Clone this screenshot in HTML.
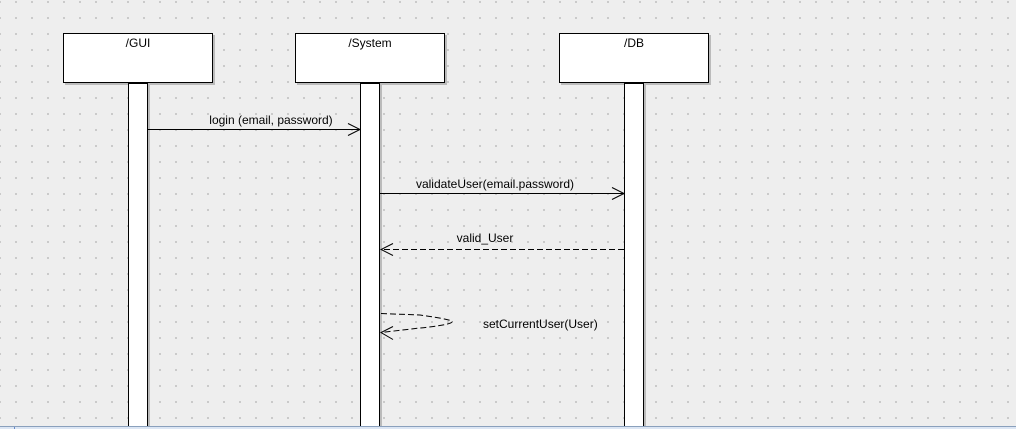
<!DOCTYPE html>
<html><head><meta charset="utf-8"><style>
html,body{margin:0;padding:0;background:#eeeeee;}
svg{display:block;}
text{font-family:"Liberation Sans",sans-serif;font-size:12px;fill:#000;}
</style></head><body>
<svg width="1016" height="429" xmlns="http://www.w3.org/2000/svg">
<defs>
<pattern id="d" x="15" y="1" width="16" height="16" patternUnits="userSpaceOnUse">
<rect x="0" y="0" width="2" height="2" fill="#cacaca"/>
</pattern>
</defs>
<rect width="1016" height="429" fill="#eeeeee"/>
<rect width="1016" height="426" fill="url(#d)"/>
<g stroke="#000" stroke-width="1" fill="#fff">
<rect x="65" y="35" width="150" height="50" fill="#bbb" stroke="none"/>
<rect x="297" y="35" width="150" height="50" fill="#bbb" stroke="none"/>
<rect x="561" y="35" width="150" height="50" fill="#bbb" stroke="none"/>
<rect x="130" y="85" width="20" height="345" fill="#bbb" stroke="none"/>
<rect x="362" y="85" width="20" height="345" fill="#bbb" stroke="none"/>
<rect x="626" y="85" width="20" height="345" fill="#bbb" stroke="none"/>
<rect x="63.5" y="33.5" width="149" height="49"/>
<rect x="295.5" y="33.5" width="149" height="49"/>
<rect x="559.5" y="33.5" width="149" height="49"/>
<rect x="128.5" y="83.5" width="19" height="350"/>
<rect x="360.5" y="83.5" width="19" height="350"/>
<rect x="624.5" y="83.5" width="19" height="350"/>
</g>
<text x="138" y="47" text-anchor="middle">/GUI</text>
<text x="370" y="47" text-anchor="middle">/System</text>
<text x="634" y="47" text-anchor="middle">/DB</text>
<g stroke="#000" stroke-width="1" fill="none">
<line x1="148" y1="129.5" x2="360" y2="129.5"/>
<polyline points="348,123.5 360,129.5 348,135.5"/>
<line x1="380" y1="193.5" x2="624" y2="193.5"/>
<polyline points="612,187.5 624,193.5 612,199.5"/>
<line x1="624" y1="249.5" x2="381" y2="249.5" stroke-dasharray="6,3"/>
<polyline points="393,243.5 381,249.5 393,255.5"/>
<path d="M381,313.5 L420,315 Q455,320 452,322 Q450,325 420,328 L381,332.5" stroke-dasharray="6,3"/>
<polyline points="393,326.5 381,332.5 393,339.5"/>
</g>
<text x="271" y="124" text-anchor="middle">login (email, password)</text>
<text x="495" y="188" text-anchor="middle">validateUser(email.password)</text>
<text x="485" y="242" text-anchor="middle">valid_User</text>
<text x="483" y="328">setCurrentUser(User)</text>
<rect x="0" y="426" width="1016" height="3" fill="#dce6f4"/>
<line x1="0" y1="426.5" x2="1016" y2="426.5" stroke="#8aa0bc" stroke-width="1"/>
<line x1="14.5" y1="427" x2="14.5" y2="429" stroke="#6a8cc8"/>
</svg>
</body></html>
